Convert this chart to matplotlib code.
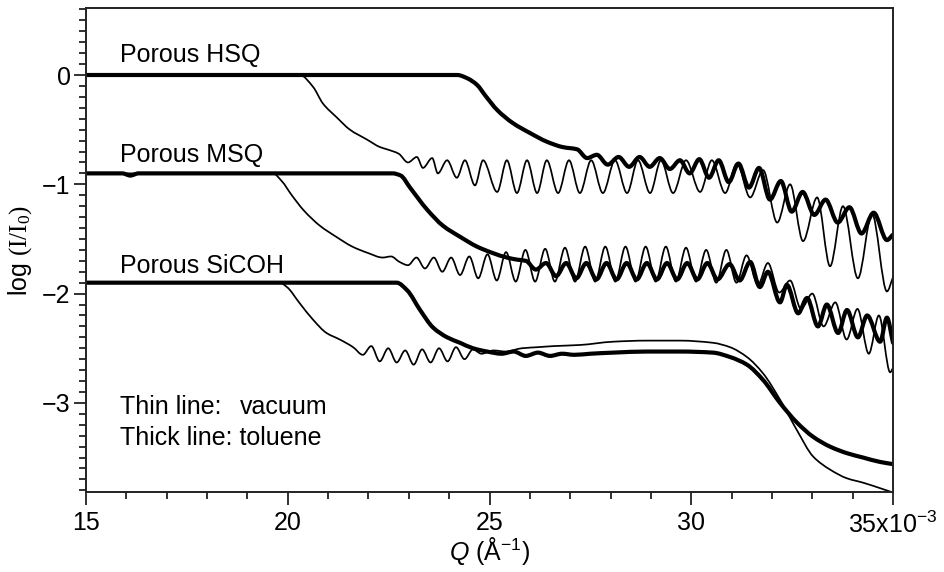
import matplotlib
matplotlib.use("Agg")
import matplotlib.pyplot as plt
from matplotlib.ticker import MultipleLocator, FixedLocator, FixedFormatter
from matplotlib.path import Path
from matplotlib.patches import PathPatch

plt.rcParams['font.family'] = ['Liberation Sans', 'DejaVu Sans']
plt.rcParams['mathtext.fontset'] = 'custom'
plt.rcParams['mathtext.rm'] = 'Liberation Serif'
plt.rcParams['mathtext.sf'] = 'Liberation Sans'
plt.rcParams['mathtext.it'] = 'Liberation Sans:italic'

# ---------------- data (Q in 1e-3 1/A, log(I/I0)) ----------------
hsq_thin_q = [15.0, 20.3, 20.63, 20.87, 21.22, 21.54, 21.96, 22.29, 22.46, 22.75,
              22.98, 23.20, 23.35, 23.58, 23.72, 23.95, 24.19, 24.39, 24.64, 24.84,
              25.19, 25.43, 25.68, 25.93, 26.18, 26.42, 26.70, 26.97, 27.24, 27.52,
              27.81, 28.11, 28.41, 28.68, 28.98, 29.25, 29.55, 29.87, 30.22, 30.51,
              30.84, 31.13, 31.46, 31.78, 32.13, 32.45, 32.77, 33.12, 33.44, 33.76,
              34.13, 34.48, 34.85, 35.0]
hsq_thin_y = [0, 0, -0.11, -0.26, -0.39, -0.50, -0.59, -0.66, -0.68, -0.72,
              -0.80, -0.75, -0.85, -0.76, -0.90, -0.78, -0.94, -0.78, -1.01, -0.78,
              -1.07, -0.78, -1.08, -0.78, -1.08, -0.78, -1.08, -0.78, -1.08, -0.78,
              -1.08, -0.78, -1.08, -0.78, -1.08, -0.78, -1.08, -0.78, -1.07, -0.78,
              -1.08, -0.81, -1.12, -0.87, -1.35, -1.0, -1.52, -1.12, -1.75, -1.2,
              -1.86, -1.27, -1.98, -1.85]

hsq_thick_q = [15.0, 24.2, 24.45, 24.69, 24.9, 25.19, 25.58, 26.0, 26.42, 26.82,
               27.17, 27.42, 27.66, 27.93, 28.2, 28.46, 28.72, 28.97, 29.22, 29.47,
               29.72, 29.96, 30.2, 30.44, 30.68, 30.93, 31.17, 31.43, 31.68, 31.95,
               32.22, 32.49, 32.76, 33.05, 33.33, 33.63, 33.92, 34.22, 34.52, 34.85,
               35.0]
hsq_thick_y = [0, 0, -0.03, -0.09, -0.19, -0.32, -0.44, -0.53, -0.61, -0.66,
               -0.68, -0.76, -0.73, -0.82, -0.75, -0.84, -0.75, -0.84, -0.76, -0.86,
               -0.78, -0.90, -0.77, -0.94, -0.78, -0.98, -0.81, -1.03, -0.85, -1.14,
               -0.97, -1.25, -1.07, -1.28, -1.14, -1.35, -1.21, -1.45, -1.26, -1.51,
               -1.46]

msq_thin_q = [15.0, 19.63, 19.85, 20.1, 20.4, 20.8, 21.2, 21.6, 22.0, 22.35,
              22.56, 22.77, 22.98, 23.19, 23.40, 23.62, 23.83, 24.05, 24.27, 24.5,
              24.72, 24.95, 25.18, 25.41, 25.65, 25.89, 26.13, 26.38, 26.62, 26.87,
              27.12, 27.37, 27.62, 27.87, 28.12, 28.37, 28.62, 28.87, 29.12, 29.37,
              29.62, 29.87, 30.12, 30.37, 30.62, 30.87, 31.12, 31.37, 31.65, 31.9,
              32.18, 32.45, 32.72, 33.0, 33.28, 33.57, 33.85, 34.12, 34.4, 34.65,
              34.93, 35.0]
msq_thin_y = [-0.9, -0.9, -0.97, -1.1, -1.24, -1.38, -1.48, -1.57, -1.63, -1.67,
              -1.66, -1.71, -1.74, -1.67, -1.77, -1.67, -1.80, -1.67, -1.83, -1.66,
              -1.86, -1.64, -1.88, -1.62, -1.89, -1.60, -1.89, -1.59, -1.89, -1.58,
              -1.89, -1.57, -1.89, -1.57, -1.89, -1.57, -1.89, -1.57, -1.89, -1.57,
              -1.89, -1.58, -1.89, -1.60, -1.90, -1.60, -1.90, -1.65, -1.92, -1.72,
              -1.99, -1.88, -2.14, -2.0, -2.30, -2.08, -2.42, -2.14, -2.55, -2.2,
              -2.72, -2.68]

msq_thick_q = [15.0, 15.9, 16.1, 16.3, 22.6, 22.8, 23.03, 23.45, 23.85, 24.27,
               24.69, 25.09, 25.43, 25.7, 25.9, 26.15, 26.4, 26.65, 26.9, 27.15,
               27.4, 27.65, 27.9, 28.15, 28.4, 28.65, 28.9, 29.15, 29.4, 29.65,
               29.9, 30.15, 30.4, 30.65, 30.95, 31.2, 31.46, 31.7, 31.9, 32.2,
               32.37, 32.65, 32.87, 33.14, 33.36, 33.64, 33.86, 34.13, 34.36, 34.68,
               34.85, 35.0]
msq_thick_y = [-0.9, -0.9, -0.92, -0.9, -0.9, -0.92, -1.03, -1.23, -1.38, -1.48,
               -1.57, -1.63, -1.67, -1.69, -1.70, -1.78, -1.72, -1.84, -1.72, -1.86,
               -1.72, -1.87, -1.72, -1.87, -1.72, -1.87, -1.72, -1.87, -1.72, -1.87,
               -1.72, -1.87, -1.72, -1.87, -1.73, -1.88, -1.71, -1.94, -1.80, -2.08,
               -1.92, -2.18, -2.04, -2.30, -2.10, -2.36, -2.15, -2.40, -2.20, -2.44,
               -2.22, -2.45]

sicoh_thin_q = [15.0, 19.8, 19.98, 20.3, 20.63, 20.96, 21.29, 21.62, 21.86, 22.07,
                22.28, 22.49, 22.70, 22.91, 23.12, 23.33, 23.54, 23.75, 23.96, 24.17,
                24.38, 24.59, 24.8, 25.1, 25.4, 25.8, 26.2, 26.6, 27.24, 28.06,
                28.9, 29.72, 30.54, 30.96, 31.38, 31.78, 32.2, 32.62, 33.02, 33.44,
                33.86, 34.26, 34.68, 35.0]
sicoh_thin_y = [-1.9, -1.9, -1.94, -2.09, -2.24, -2.36, -2.42, -2.49, -2.56, -2.48,
                -2.62, -2.50, -2.63, -2.52, -2.65, -2.51, -2.63, -2.50, -2.62, -2.49,
                -2.60, -2.51, -2.55, -2.52, -2.53, -2.5, -2.49, -2.48, -2.47, -2.44,
                -2.43, -2.43, -2.45, -2.49, -2.58, -2.73, -2.97, -3.25, -3.49, -3.61,
                -3.69, -3.73, -3.78, -3.82]

sicoh_thick_q = [15.0, 22.7, 22.96, 23.28, 23.60, 23.95, 24.27, 24.59, 24.94, 25.3,
                 25.6, 25.9, 26.2, 26.5, 26.8, 27.1, 27.5, 28.06, 28.9, 29.72,
                 30.54, 30.96, 31.38, 31.78, 32.2, 32.62, 33.02, 33.44, 33.86, 34.26,
                 34.68, 35.0]
sicoh_thick_y = [-1.9, -1.9, -1.97, -2.15, -2.31, -2.40, -2.45, -2.50, -2.53, -2.55,
                 -2.53, -2.57, -2.54, -2.57, -2.55, -2.56, -2.55, -2.54, -2.53, -2.53,
                 -2.54, -2.58, -2.65, -2.79, -3.0, -3.18, -3.31, -3.40, -3.46, -3.50,
                 -3.54, -3.56]

sample_labels = ['Porous HSQ', 'Porous MSQ', 'Porous SiCOH']
label_y = [0.18, -0.73, -1.75]
x_tick_values = [15, 20, 25, 30, 35]
x_tick_labels = ['15', '20', '25', '30', r'35x10$^{\mathsf{-3}}$']
y_tick_values = [0, -1, -2, -3]


def smooth_path(q, y):
    """Smooth (monotone Hermite / Bezier) drawing through the read points."""
    n = len(q)
    h = [q[i + 1] - q[i] for i in range(n - 1)]
    d = [(y[i + 1] - y[i]) / h[i] for i in range(n - 1)]
    m = [0.0] * n
    m[0] = d[0]
    m[-1] = d[-1]
    for k in range(1, n - 1):
        if d[k - 1] * d[k] <= 0:
            m[k] = 0.0
        else:
            w1 = 2 * h[k] + h[k - 1]
            w2 = h[k] + 2 * h[k - 1]
            m[k] = (w1 + w2) / (w1 / d[k - 1] + w2 / d[k])
    verts = [(q[0], y[0])]
    codes = [Path.MOVETO]
    for i in range(n - 1):
        verts.append((q[i] + h[i] / 3, y[i] + m[i] * h[i] / 3))
        verts.append((q[i + 1] - h[i] / 3, y[i + 1] - m[i + 1] * h[i] / 3))
        verts.append((q[i + 1], y[i + 1]))
        codes += [Path.CURVE4] * 3
    return Path(verts, codes)


# ---------------- figure ----------------
fig = plt.figure(figsize=(9.45, 5.72), dpi=100)
ax = fig.add_axes([86 / 945, 80 / 572, 807 / 945, 484 / 572])

thin_lw = 1.25
thick_lw = 3.0
curves = [
    (hsq_thin_q, hsq_thin_y, thin_lw),
    (msq_thin_q, msq_thin_y, thin_lw),
    (sicoh_thin_q, sicoh_thin_y, thin_lw),
    (hsq_thick_q, hsq_thick_y, thick_lw),
    (msq_thick_q, msq_thick_y, thick_lw),
    (sicoh_thick_q, sicoh_thick_y, thick_lw),
]
for q, y, lw in curves:
    patch = PathPatch(smooth_path(q, y), fill=False, edgecolor='black', lw=lw,
                      joinstyle='round', capstyle='round', transform=ax.transData,
                      clip_on=True)
    ax.add_patch(patch)

ax.set_xlim(15, 35)
ax.set_ylim(-3.815, 0.613)

ax.xaxis.set_major_locator(FixedLocator(x_tick_values))
ax.xaxis.set_major_formatter(FixedFormatter(x_tick_labels))
ax.xaxis.set_minor_locator(MultipleLocator(1))
ax.yaxis.set_major_locator(FixedLocator(y_tick_values))
ax.yaxis.set_minor_locator(MultipleLocator(0.1))

ax.tick_params(which='both', direction='out', top=False, right=False,
               labelsize=18, width=1.3, color='#222222')
ax.tick_params(which='major', length=9)
ax.tick_params(which='minor', length=5)
ax.tick_params(axis='y', which='major', pad=2)
ax.tick_params(axis='x', which='major', pad=5)

for s in ax.spines.values():
    s.set_linewidth(1.4)
    s.set_color('#222222')

for lab, yv in zip(sample_labels, label_y):
    ax.text(15.84, yv, lab, fontsize=18, va='center', ha='left')

ax.text(15.84, -3.04, 'Thin line:', fontsize=18, va='center', ha='left')
ax.text(18.82, -3.04, 'vacuum', fontsize=18, va='center', ha='left')
ax.text(15.84, -3.32, 'Thick line: toluene', fontsize=18, va='center', ha='left')

ax.set_xlabel(r'$\mathit{Q}$ (Å$^{\mathsf{-1}}$)', fontsize=18, labelpad=-2)
ax.set_ylabel(r'log $(\mathrm{I/I_0})$', fontsize=18, labelpad=6)

fig.savefig('out.png', dpi=100)
